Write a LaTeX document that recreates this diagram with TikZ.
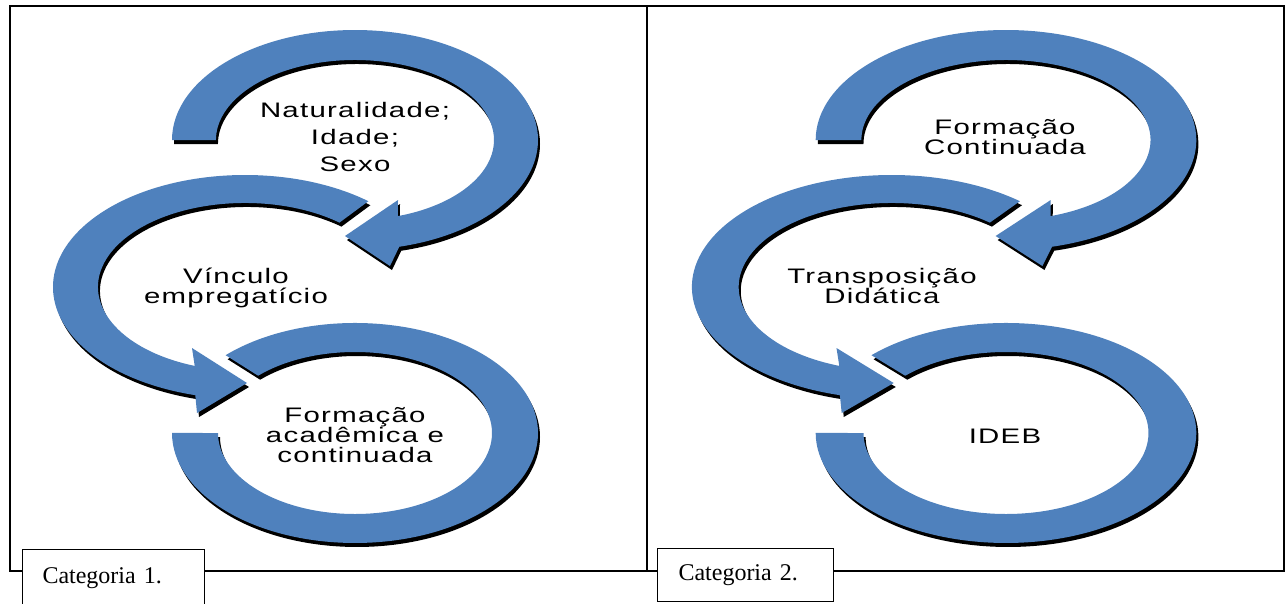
\documentclass[tikz,border=0pt]{standalone}
\usepackage{fontspec}
\setmainfont{Liberation Serif}
\newfontfamily\ringfont[FakeStretch=1.4, LetterSpace=6]{Liberation Sans}
\definecolor{ringblue}{HTML}{4F81BD}

\tikzset{
  ringtext/.style={font=\ringfont\fontsize{15.75}{15}\selectfont, align=center, inner sep=0pt, anchor=base},
  catbox/.style={draw, line width=0.75pt, fill=white, anchor=north west, align=left, inner ysep=0pt, font=\fontsize{18}{20}\selectfont}
}

\begin{document}
\begin{tikzpicture}[x=0.75pt,y=0.75pt,yscale=-1,xscale=1]
    \useasboundingbox (0,0) rectangle (1288,603);

    %Shape: Frame
    \draw[line width=1.5pt] (10,6) rectangle (1284,571);
    %Straight Lines: divider
    \draw[line width=1.5pt] (647,6) -- (647,571);

    %Shape: circular arrows, one set per panel (black shadow first, then blue)
    \foreach \dx/\sx in {0/1, 636.8/1.04}{
      \begin{scope}[shift={(\dx,0)}, xscale=\sx]
        \foreach \col/\off in {black/4, ringblue/0}{
          \begin{scope}[shift={(\off/2,\off)}]
            % upper arrow
            \fill[\col] (172,140) arc[start angle=180, end angle=436, x radius=183, y radius=110]
              -- (390,266) -- (345,236) -- (398,200) -- (397.9,216.1)
              arc[start angle=432, end angle=180, x radius=139, y radius=80] -- cycle;
            % middle arrow
            \fill[\col] (368.4,201.2) arc[start angle=-50, end angle=-255, x radius=192, y radius=112]
              -- (197,413) -- (247,383) -- (192,348) -- (194.7,365.9)
              arc[start angle=-250, end angle=-50, x radius=147, y radius=84] -- cycle;
            % lower arrow
            \fill[\col] (225.6,355.2) arc[start angle=225, end angle=540, x radius=183, y radius=110]
              -- (218,433)
              arc[start angle=540, end angle=225, x radius=137, y radius=81] -- cycle;
          \end{scope}
        }
      \end{scope}
    }

    % Text Node (anchor on the baseline of the last line)
    \node[ringtext, font=\ringfont\fontsize{15.75}{20}\selectfont] (nat) at (355,171) {Naturalidade;\\Idade;\\Sexo};
    % Text Node
    \node[ringtext] (vinc) at (236,303) {Vínculo\\empregatício};
    % Text Node
    \node[ringtext] (acad) at (355,462) {Formação\\acadêmica e\\continuada};
    % Text Node
    \node[ringtext] (cont) at (1005,154) {Formação\\Continuada};
    % Text Node
    \node[ringtext] (transp) at (882,303) {Transposição\\Didática};
    % Text Node
    \node[ringtext] (ideb) at (1005,443) {IDEB};

    % Text Node: category labels
    \node[catbox, inner xsep=15pt, text width=106.5pt, minimum height=42.75pt] (cat1) at (22,549) {Categoria 1.};
    \node[catbox, inner xsep=15.75pt, text width=100.5pt, minimum height=39.75pt] (cat2) at (657,548) {Categoria 2.};

\end{tikzpicture}
\end{document}
